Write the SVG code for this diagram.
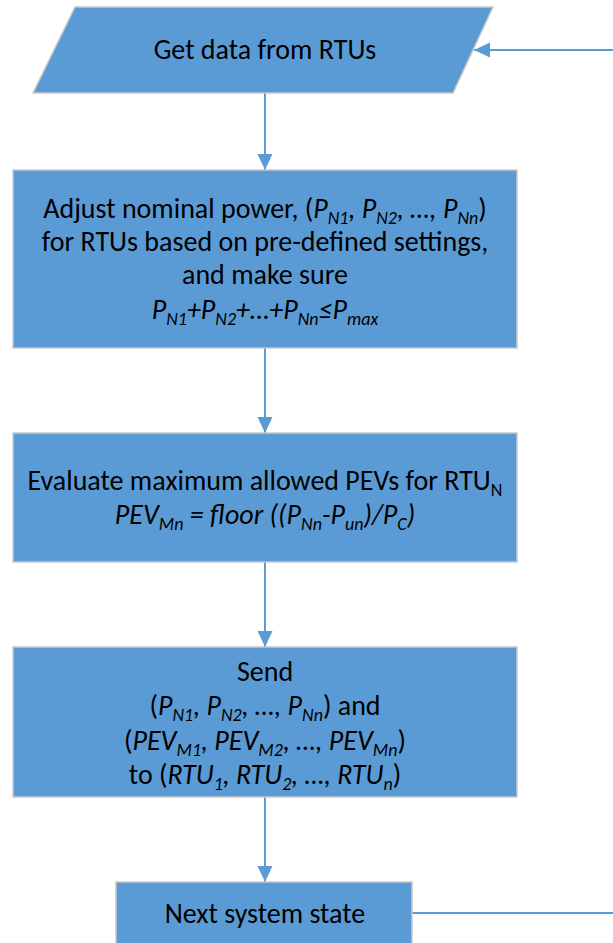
<svg xmlns="http://www.w3.org/2000/svg" width="613" height="943" viewBox="0 0 613 943">
<style>
.shape{fill:#5B9BD5;stroke:#C8C8C8;stroke-width:1.5}
.t{font-family:Carlito,Calibri,Lato,"Liberation Sans",sans-serif;font-size:28px;fill:#000;text-anchor:middle}
.i{font-style:italic}
.s{font-size:18px}
.conn{stroke:#5B9BD5;stroke-width:2;fill:none}
</style>
<defs>
<marker id="ah" markerUnits="userSpaceOnUse" markerWidth="17" markerHeight="16" refX="16" refY="7.5" orient="auto">
<path d="M0,0 L16,7.5 L0,15 z" fill="#5B9BD5"/>
</marker>
</defs>
<rect width="613" height="943" fill="#fff"/>
<g id="connectors">
<line class="conn" x1="265" y1="93" x2="265" y2="170" marker-end="url(#ah)"/>
<line class="conn" x1="265" y1="348" x2="265" y2="433" marker-end="url(#ah)"/>
<line class="conn" x1="265" y1="562" x2="265" y2="647" marker-end="url(#ah)"/>
<line class="conn" x1="265" y1="797" x2="265" y2="882" marker-end="url(#ah)"/>
<line class="conn" x1="412" y1="913" x2="613" y2="913"/>
<line class="conn" x1="613" y1="50" x2="474" y2="50" marker-end="url(#ah)"/>
</g>
<g id="n1">
<path class="shape" d="M75,7 L493,7 L453,93 L33,93 Z"/>
<text class="t" x="265" y="59">Get data from RTUs</text>
</g>
<g id="n2">
<rect class="shape" x="13" y="170" width="504" height="178"/>
<text class="t" x="265" y="218">Adjust nominal power, (<tspan class="i">P</tspan><tspan class="i s" dy="6">N1</tspan><tspan class="i" dy="-6">, P</tspan><tspan class="i s" dy="6">N2</tspan><tspan class="i" dy="-6">, …, P</tspan><tspan class="i s" dy="6">Nn</tspan><tspan dy="-6">)</tspan></text>
<text class="t" x="265" y="251">for RTUs based on pre-defined settings,</text>
<text class="t" x="265" y="284">and make sure</text>
<text class="t i" x="265" y="319">P<tspan class="s" dy="6">N1</tspan><tspan dy="-6">+P</tspan><tspan class="s" dy="6">N2</tspan><tspan dy="-6">+…+P</tspan><tspan class="s" dy="6">Nn</tspan><tspan dy="-6">≤P</tspan><tspan class="s" dy="6">max</tspan></text>
</g>
<g id="n3">
<rect class="shape" x="13" y="433" width="504" height="129"/>
<text class="t" x="265" y="490">Evaluate maximum allowed PEVs for RTU<tspan class="s" dy="6">N</tspan></text>
<text class="t i" x="265" y="524">PEV<tspan class="s" dy="6">Mn</tspan><tspan dy="-6"> = floor ((P</tspan><tspan class="s" dy="6">Nn</tspan><tspan dy="-6">-P</tspan><tspan class="s" dy="6">un</tspan><tspan dy="-6">)/P</tspan><tspan class="s" dy="6">C</tspan><tspan dy="-6">)</tspan></text>
</g>
<g id="n4">
<rect class="shape" x="13" y="647" width="504" height="150"/>
<text class="t" x="265" y="681">Send</text>
<text class="t" x="265" y="715">(<tspan class="i">P</tspan><tspan class="i s" dy="6">N1</tspan><tspan class="i" dy="-6">, P</tspan><tspan class="i s" dy="6">N2</tspan><tspan class="i" dy="-6">, …, P</tspan><tspan class="i s" dy="6">Nn</tspan><tspan dy="-6">) and</tspan></text>
<text class="t" x="265" y="750">(<tspan class="i">PEV</tspan><tspan class="i s" dy="6">M1</tspan><tspan class="i" dy="-6">, PEV</tspan><tspan class="i s" dy="6">M2</tspan><tspan class="i" dy="-6">, …, PEV</tspan><tspan class="i s" dy="6">Mn</tspan><tspan dy="-6">)</tspan></text>
<text class="t" x="265" y="784">to (<tspan class="i">RTU</tspan><tspan class="i s" dy="6">1</tspan><tspan class="i" dy="-6">, RTU</tspan><tspan class="i s" dy="6">2</tspan><tspan class="i" dy="-6">, …, RTU</tspan><tspan class="i s" dy="6">n</tspan><tspan dy="-6">)</tspan></text>
</g>
<g id="n5">
<rect class="shape" x="116" y="882" width="296" height="70"/>
<text class="t" x="265" y="923">Next system state</text>
</g>
</svg>
